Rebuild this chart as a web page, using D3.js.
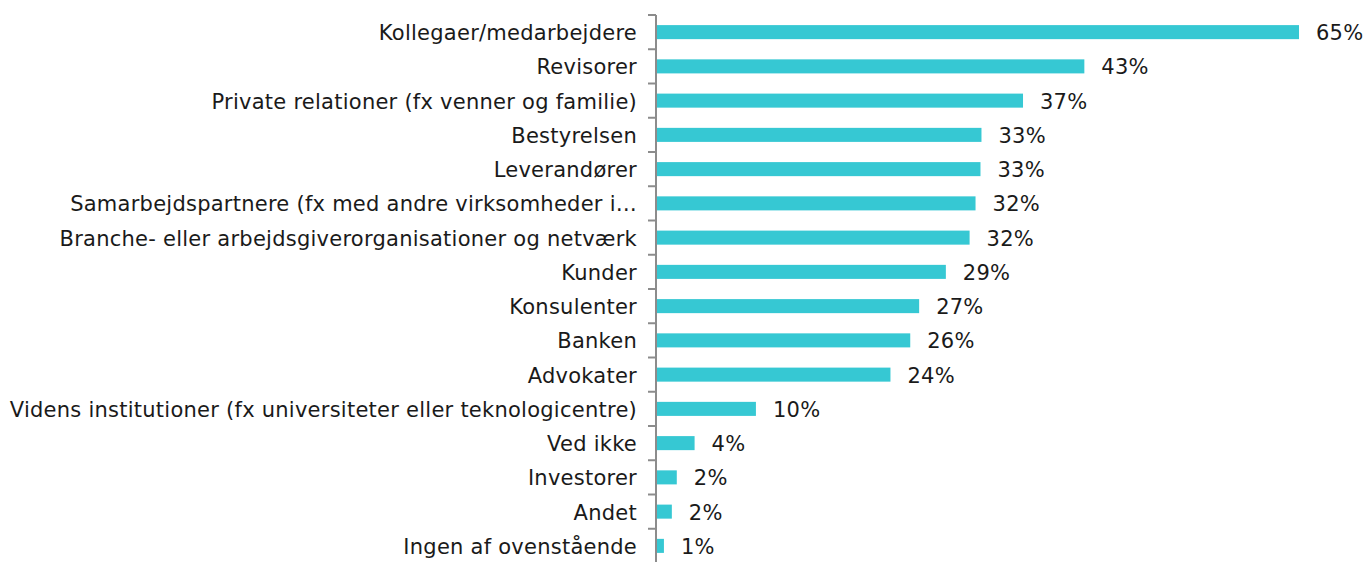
<!DOCTYPE html>
<html>
<head>
<meta charset="utf-8">
<script src="https://cdn.jsdelivr.net/npm/d3@7"></script>
<style>
  body { margin: 0; background: #fff; }
  text { font-family: Verdana, "DejaVu Sans", sans-serif; letter-spacing: 0.25px; }
</style>
</head>
<body>
<div class="playground"></div>
<script>
// categories top to bottom
var categories = [
  "Kollegaer/medarbejdere",
  "Revisorer",
  "Private relationer (fx venner og familie)",
  "Bestyrelsen",
  "Leverandører",
  "Samarbejdspartnere (fx med andre virksomheder i…",
  "Branche- eller arbejdsgiverorganisationer og netværk",
  "Kunder",
  "Konsulenter",
  "Banken",
  "Advokater",
  "Videns institutioner (fx universiteter eller teknologicentre)",
  "Ved ikke",
  "Investorer",
  "Andet",
  "Ingen af ovenstående"
];

// share in percent
var values = [64.9, 43.2, 37.0, 32.8, 32.7, 32.2, 31.6, 29.2, 26.5, 25.6, 23.6, 10.0, 3.8, 2.0, 1.5, 0.7];

// printed value labels
var valueLabels = ["65%", "43%", "37%", "33%", "33%", "32%", "32%", "29%", "27%", "26%", "24%", "10%", "4%", "2%", "2%", "1%"];

var width  = 1367,
    height = 562;

var margin = { top: 15, left: 656 };

var x = d3.scaleLinear()
          .domain([0, 65])
          .range([margin.left, margin.left + 643]);

var y = d3.scaleBand()
          .domain(categories)
          .range([margin.top, margin.top + 16 * 34.25])
          .paddingInner(0.59)
          .paddingOuter(0.295);

var svg = d3.select(".playground")
            .append("svg")
            .attr("width", width)
            .attr("height", height);

// bars
svg.append("g")
   .selectAll("rect")
   .data(values)
   .enter()
   .append("rect")
   .attr("x", x(0) + 1)
   .attr("y", function(d, i) { return y(categories[i]); })
   .attr("width", function(d) { return x(d) - x(0); })
   .attr("height", y.bandwidth())
   .attr("fill", "#36C8D3");

// value labels
svg.append("g")
   .selectAll("text")
   .data(values)
   .enter()
   .append("text")
   .attr("x", function(d) { return x(d) + 18; })
   .attr("y", function(d, i) { return y(categories[i]) + y.bandwidth() / 2; })
   .attr("dy", "0.38em")
   .attr("font-size", "21px")
   .attr("fill", "#1a1a1a")
   .text(function(d, i) { return valueLabels[i]; });

// category axis, ticks between bands
var axis = svg.append("g").attr("class", "axis");

axis.append("line")
    .attr("x1", margin.left).attr("x2", margin.left)
    .attr("y1", y.range()[0]).attr("y2", y.range()[1])
    .attr("stroke", "#8c8c8c")
    .attr("stroke-width", 2);

axis.selectAll(".tick")
    .data(d3.range(categories.length + 1))
    .enter()
    .append("line")
    .attr("class", "tick")
    .attr("x1", margin.left - 8).attr("x2", margin.left)
    .attr("y1", function(i) { return y.range()[0] + i * y.step(); })
    .attr("y2", function(i) { return y.range()[0] + i * y.step(); })
    .attr("stroke", "#8c8c8c")
    .attr("stroke-width", 2);

axis.selectAll(".label")
    .data(categories)
    .enter()
    .append("text")
    .attr("class", "label")
    .attr("x", margin.left - 19)
    .attr("y", function(d) { return y(d) + y.bandwidth() / 2; })
    .attr("dy", "0.38em")
    .attr("text-anchor", "end")
    .attr("font-size", "21px")
    .attr("fill", "#1a1a1a")
    .text(function(d) { return d; });
</script>
</body>
</html>
